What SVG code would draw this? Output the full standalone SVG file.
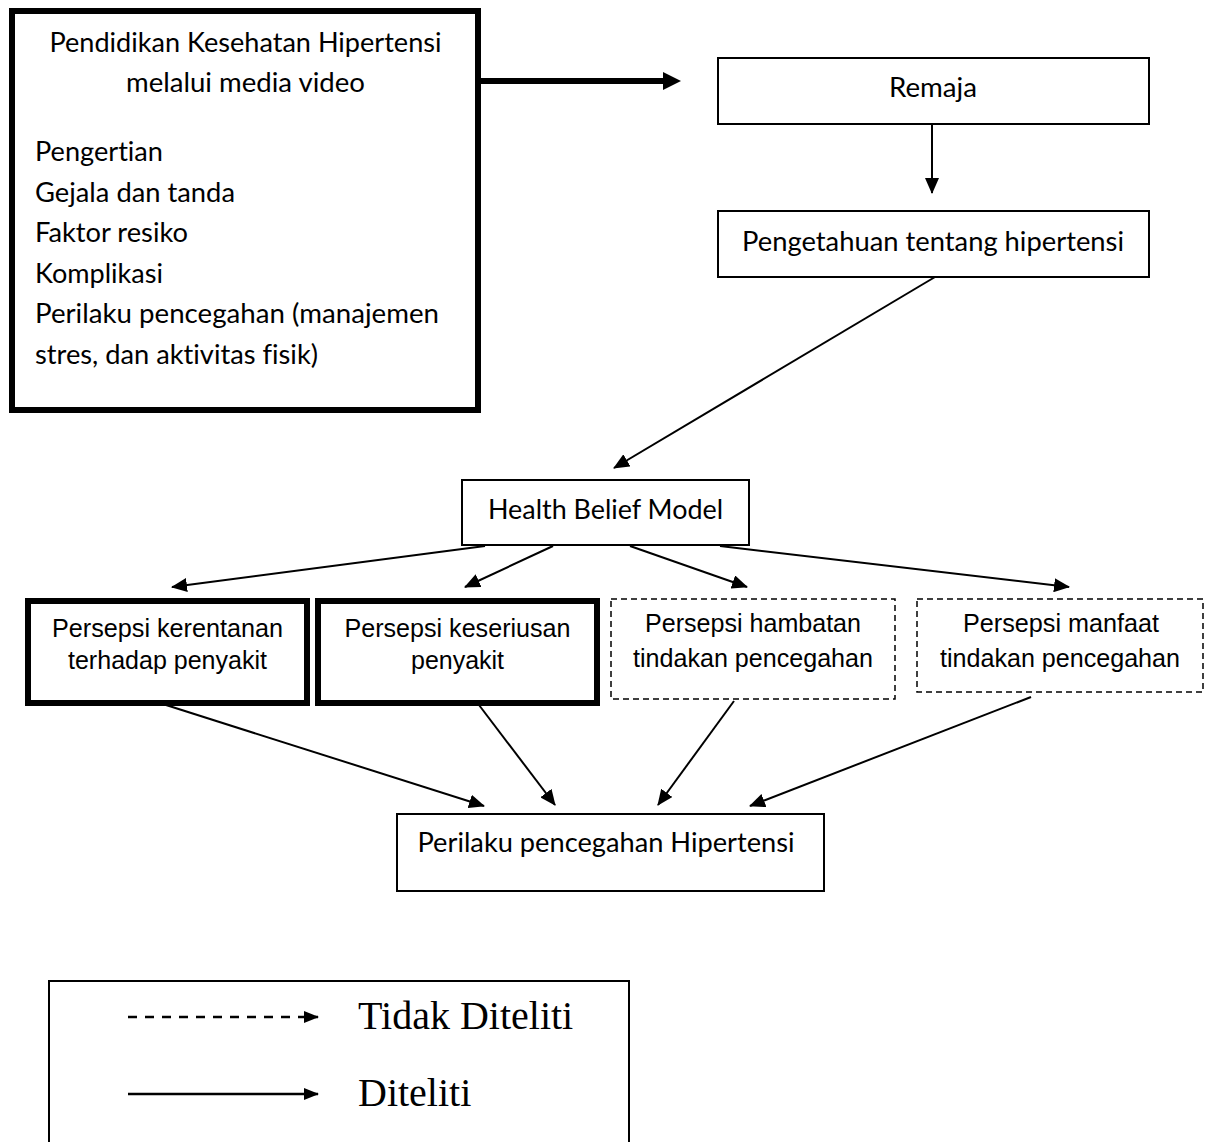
<svg xmlns="http://www.w3.org/2000/svg" width="1205" height="1142" viewBox="0 0 1205 1142">
<defs>
<marker id="ah" markerUnits="userSpaceOnUse" markerWidth="16" markerHeight="14" viewBox="0 0 16 14" refX="15" refY="7" orient="auto"><path d="M0,0 L16,7 L0,14 z" fill="#000"/></marker>
<marker id="ahThick" markerUnits="userSpaceOnUse" markerWidth="18" markerHeight="18" viewBox="0 0 18 18" refX="4" refY="9" orient="auto"><path d="M0,0 L18,9 L0,18 z" fill="#000"/></marker>
<marker id="ahLeg" markerUnits="userSpaceOnUse" markerWidth="15" markerHeight="12" viewBox="0 0 15 12" refX="14" refY="6" orient="auto"><path d="M0,0 L15,6 L0,12 z" fill="#000"/></marker>
</defs>
<style>
text{font-variant-ligatures:none}
.cal{font-family:Lato,"Open Sans",sans-serif;font-size:27px;fill:#000}
.ari{font-family:"Liberation Sans",Arial,sans-serif;font-size:25px;fill:#000}
.tim{font-family:"Liberation Serif","Times New Roman",serif;font-size:40px;fill:#000}
.box{fill:#fff;stroke:#000;stroke-width:2}
.thick{fill:#fff;stroke:#000;stroke-width:6}
.dash{fill:#fff;stroke:#000;stroke-width:1.5;stroke-dasharray:6 4}
.conn{stroke:#000;stroke-width:2;fill:none;marker-end:url(#ah)}
.mid{text-anchor:middle}
</style>
<rect width="1205" height="1142" fill="#fff"/>

<g id="connectors">
<line x1="481" y1="81" x2="667" y2="81" stroke="#000" stroke-width="6" marker-end="url(#ahThick)"/>
<line class="conn" x1="932" y1="124" x2="932" y2="193"/>
<line class="conn" x1="935" y1="277" x2="614" y2="468"/>
<line class="conn" x1="485" y1="546" x2="172" y2="587"/>
<line class="conn" x1="553" y1="546" x2="465" y2="587"/>
<line class="conn" x1="630" y1="546" x2="747" y2="587"/>
<line class="conn" x1="720" y1="546" x2="1069" y2="587"/>
<line class="conn" x1="166" y1="705" x2="484" y2="806"/>
<line class="conn" x1="479" y1="705" x2="555" y2="805"/>
<line class="conn" x1="734" y1="701" x2="658" y2="805"/>
<line class="conn" x1="1031" y1="697" x2="750" y2="806"/>
</g>

<g id="node-pendidikan">
<rect class="thick" x="12" y="11" width="466" height="399"/>
<text class="cal mid" x="245.5" y="52" textLength="392" lengthAdjust="spacingAndGlyphs">Pendidikan Kesehatan Hipertensi</text>
<text class="cal mid" x="245.5" y="92" textLength="239" lengthAdjust="spacingAndGlyphs">melalui media video</text>
<text class="cal" x="35" y="160.5" textLength="128" lengthAdjust="spacingAndGlyphs">Pengertian</text>
<text class="cal" x="35" y="201.5" textLength="200" lengthAdjust="spacingAndGlyphs">Gejala dan tanda</text>
<text class="cal" x="35" y="242.3" textLength="153" lengthAdjust="spacingAndGlyphs">Faktor resiko</text>
<text class="cal" x="35" y="282.7" textLength="128" lengthAdjust="spacingAndGlyphs">Komplikasi</text>
<text class="cal" x="35" y="323.3" textLength="404" lengthAdjust="spacingAndGlyphs">Perilaku pencegahan (manajemen</text>
<text class="cal" x="35" y="364.3" textLength="283" lengthAdjust="spacingAndGlyphs">stres, dan aktivitas fisik)</text>
</g>

<g id="node-remaja">
<rect class="box" x="718" y="58" width="431" height="66"/>
<text class="cal mid" x="933" y="97" textLength="88" lengthAdjust="spacingAndGlyphs">Remaja</text>
</g>

<g id="node-pengetahuan">
<rect class="box" x="718" y="211" width="431" height="66"/>
<text class="cal mid" x="933" y="251" textLength="382" lengthAdjust="spacingAndGlyphs">Pengetahuan tentang hipertensi</text>
</g>

<g id="node-hbm">
<rect class="box" x="462" y="480" width="287" height="65"/>
<text class="cal mid" x="605.5" y="519" textLength="235" lengthAdjust="spacingAndGlyphs">Health Belief Model</text>
</g>

<g id="node-kerentanan">
<rect class="thick" x="28" y="601" width="279" height="102"/>
<text class="ari mid" x="167.5" y="637" textLength="231" lengthAdjust="spacingAndGlyphs">Persepsi kerentanan</text>
<text class="ari mid" x="167.5" y="669" textLength="199" lengthAdjust="spacingAndGlyphs">terhadap penyakit</text>
</g>

<g id="node-keseriusan">
<rect class="thick" x="318" y="601" width="279" height="102"/>
<text class="ari mid" x="457.5" y="637" textLength="226" lengthAdjust="spacingAndGlyphs">Persepsi keseriusan</text>
<text class="ari mid" x="457.5" y="669" textLength="93" lengthAdjust="spacingAndGlyphs">penyakit</text>
</g>

<g id="node-hambatan">
<rect class="dash" x="611" y="599" width="284" height="100"/>
<text class="ari mid" x="753" y="632" textLength="216" lengthAdjust="spacingAndGlyphs">Persepsi hambatan</text>
<text class="ari mid" x="753" y="667" textLength="240" lengthAdjust="spacingAndGlyphs">tindakan pencegahan</text>
</g>

<g id="node-manfaat">
<rect class="dash" x="917" y="599" width="286" height="93"/>
<text class="ari mid" x="1061" y="632" textLength="196" lengthAdjust="spacingAndGlyphs">Persepsi manfaat</text>
<text class="ari mid" x="1060" y="667" textLength="240" lengthAdjust="spacingAndGlyphs">tindakan pencegahan</text>
</g>

<g id="node-perilaku">
<rect class="box" x="397" y="814" width="427" height="77"/>
<text class="cal mid" x="606" y="852" textLength="377" lengthAdjust="spacingAndGlyphs">Perilaku pencegahan Hipertensi</text>
</g>

<g id="legend">
<rect class="box" x="49" y="981" width="580" height="200"/>
<line x1="128" y1="1017" x2="318" y2="1017" stroke="#000" stroke-width="2.5" stroke-dasharray="9 8" marker-end="url(#ahLeg)"/>
<text class="tim" x="358" y="1029">Tidak Diteliti</text>
<line x1="128" y1="1094" x2="318" y2="1094" stroke="#000" stroke-width="2.5" marker-end="url(#ahLeg)"/>
<text class="tim" x="358" y="1106">Diteliti</text>
</g>
</svg>
